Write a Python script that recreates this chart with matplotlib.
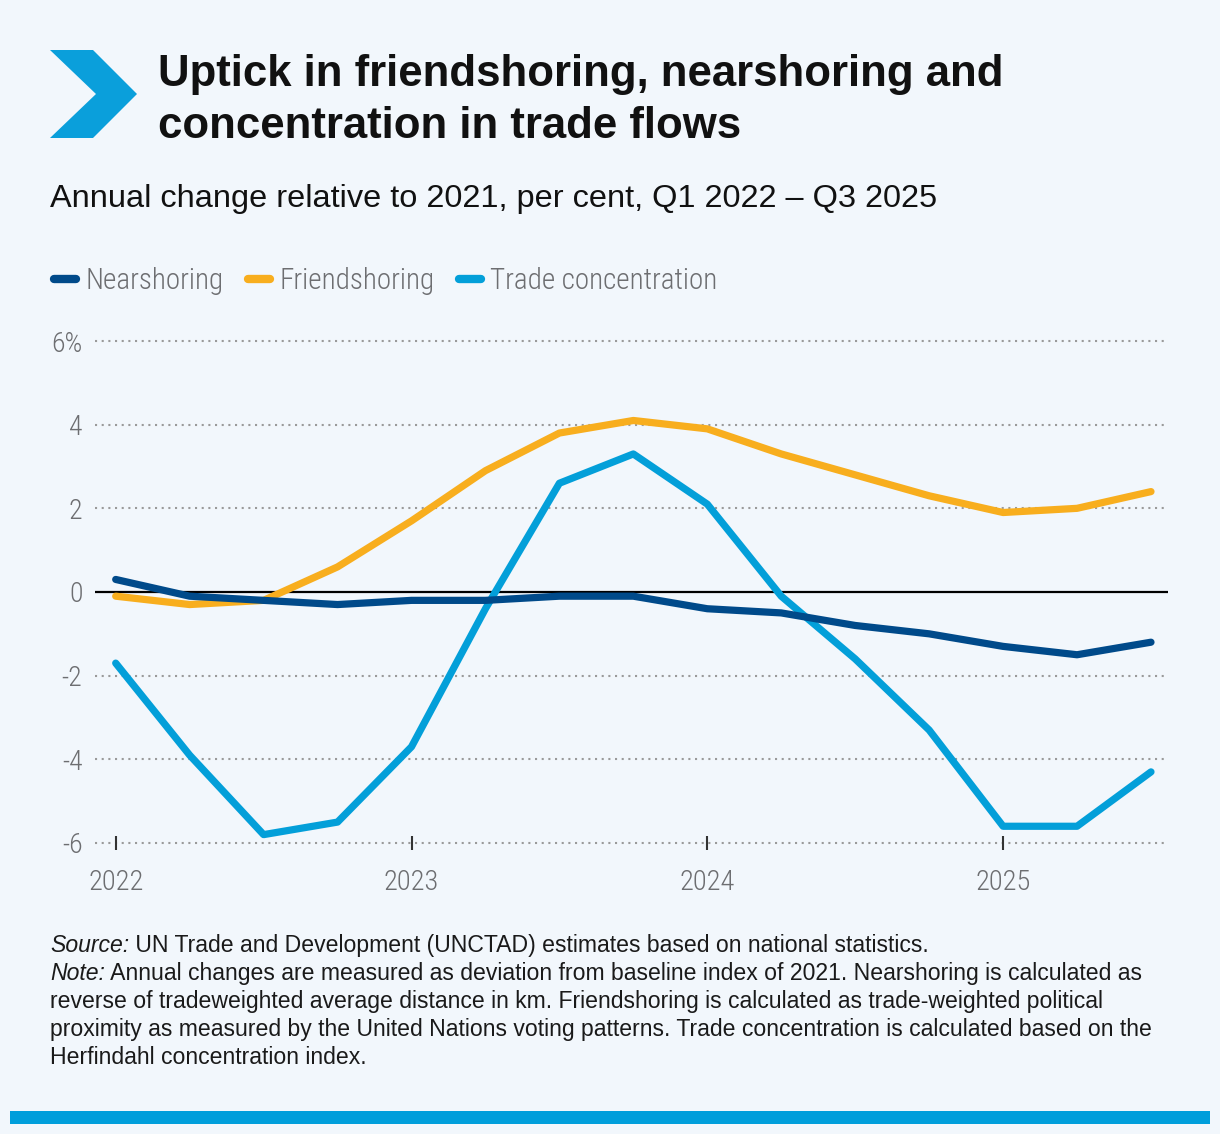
import matplotlib
matplotlib.use("Agg")
import matplotlib.pyplot as plt
from matplotlib import font_manager
from matplotlib.patches import Polygon, Rectangle
import numpy as np

# data (per cent, change relative to 2021)
quarters = ["Q1 2022", "Q2 2022", "Q3 2022", "Q4 2022",
            "Q1 2023", "Q2 2023", "Q3 2023", "Q4 2023",
            "Q1 2024", "Q2 2024", "Q3 2024", "Q4 2024",
            "Q1 2025", "Q2 2025", "Q3 2025"]
nearshoring = [0.3, -0.1, -0.2, -0.3, -0.2, -0.2, -0.1, -0.1,
               -0.4, -0.5, -0.8, -1.0, -1.3, -1.5, -1.2]
friendshoring = [-0.1, -0.3, -0.2, 0.6, 1.7, 2.9, 3.8, 4.1,
                 3.9, 3.3, 2.8, 2.3, 1.9, 2.0, 2.4]
trade_conc = [-1.7, -3.9, -5.8, -5.5, -3.7, -0.4, 2.6, 3.3,
              2.1, -0.1, -1.6, -3.3, -5.6, -5.6, -4.3]
y_ticks = [-6, -4, -2, 0, 2, 4, 6]
y_labels = ["-6", "-4", "-2", "0", "2", "4", "6%"]

title_lines = ["Uptick in friendshoring, nearshoring and",
               "concentration in trade flows"]
subtitle = "Annual change relative to 2021, per cent, Q1 2022 \u2013 Q3 2025"
source_txt = " UN Trade and Development (UNCTAD) estimates based on national statistics."
note_txt = " Annual changes are measured as deviation from baseline index of 2021. Nearshoring is calculated as"
note_rest = ["reverse of tradeweighted average distance in km. Friendshoring is calculated as trade-weighted political",
             "proximity as measured by the United Nations voting patterns. Trade concentration is calculated based on the",
             "Herfindahl concentration index."]

# fonts
names = {f.name for f in font_manager.fontManager.ttflist}
def pick(*cands):
    for c in cands:
        if c in names:
            return c
    return "DejaVu Sans"

sans = pick("Liberation Sans", "Arial", "Roboto", "DejaVu Sans")
cond = pick("Roboto Condensed", "Liberation Sans Narrow", "Roboto", "Liberation Sans")
cond_weight = "light" if cond.startswith("Roboto") else "normal"

BG = "#F2F7FC"
GREY = "#6D6E71"
C_NEAR = "#004A8A"
C_FRIEND = "#F8AE1E"
C_TRADE = "#039FD9"

W, H = 1220, 1134
fig = plt.figure(figsize=(W / 100, H / 100), dpi=100, facecolor=BG)

def fx(px):
    return px / W

def fy(py):
    return 1 - py / H

# chevron
chev = [(50, 50), (93, 50), (137, 94), (93, 138), (50, 138), (96, 94)]
fig.patches.append(Polygon([(fx(a), fy(b)) for a, b in chev], closed=True,
                           transform=fig.transFigure, facecolor="#0A9FDB",
                           edgecolor="none"))

# title + subtitle
fig.text(fx(158), fy(86), title_lines[0], fontsize=31.5, fontweight="bold",
         family=sans, color="#111111", va="baseline")
fig.text(fx(158), fy(138), title_lines[1], fontsize=31.5, fontweight="bold",
         family=sans, color="#111111", va="baseline")
fig.text(fx(50), fy(207), subtitle, fontsize=23.4, family=sans,
         color="#111111", va="baseline")

# axes
ylo, yhi = -6.5, 6.2
ppu = 41.83
bot_px = 843 + (-6 - ylo) * ppu
top_px = 341 - (yhi - 6) * ppu
ax = fig.add_axes([fx(95), fy(bot_px), fx(1168 - 95), (bot_px - top_px) / H])
ax.set_facecolor(BG)

x = np.arange(len(quarters))
l3, = ax.plot(x, trade_conc, color=C_TRADE, lw=5.2, solid_capstyle="round",
              solid_joinstyle="round", label="Trade concentration", zorder=3)
l2, = ax.plot(x, friendshoring, color=C_FRIEND, lw=5.2, solid_capstyle="round",
              solid_joinstyle="round", label="Friendshoring", zorder=4)
l1, = ax.plot(x, nearshoring, color=C_NEAR, lw=5.2, solid_capstyle="round",
              solid_joinstyle="round", label="Nearshoring", zorder=5)

ax.set_xlim(-0.28, 14.23)
ax.set_ylim(ylo, yhi)
ax.set_yticks(y_ticks)
ax.set_yticklabels(y_labels)
for v in y_ticks:
    if v != 0:
        ax.axhline(v, color="#9A9A9A", lw=1.5, linestyle=(0, (1, 2.2)), zorder=1)
ax.axhline(0, color="black", lw=1.6, zorder=2)

year_pos = [i for i, q in enumerate(quarters) if q.startswith("Q1")]
ax.set_xticks(year_pos)
ax.set_xticklabels([quarters[i].split()[1] for i in year_pos])

for s in ax.spines.values():
    s.set_visible(False)
ax.spines["bottom"].set_position(("data", -6))
ax.tick_params(axis="x", direction="inout", length=9.5, width=1.5,
               color="#333333", pad=14, labelsize=20.5, labelcolor=GREY)
ax.tick_params(axis="y", length=0, pad=9, labelsize=20, labelcolor=GREY)
for lab in ax.get_xticklabels() + ax.get_yticklabels():
    lab.set_family(cond)
    lab.set_fontweight(cond_weight)

# legend
leg = fig.legend(handles=[l1, l2, l3], loc="center left",
                 bbox_to_anchor=(fx(54), fy(281)), ncol=3, frameon=False,
                 borderpad=0, borderaxespad=0,
                 handlelength=0.75, handletextpad=0.34, columnspacing=0.82,
                 prop={"family": cond, "weight": cond_weight, "size": 21})
for t in leg.get_texts():
    t.set_color(GREY)
for h in leg.legend_handles:
    h.set_linewidth(6)
    h.set_solid_capstyle("round")

# footer
fig.canvas.draw()
r = fig.canvas.get_renderer()
fs = 16.6
def label_line(py, lead, rest):
    t = fig.text(fx(50), fy(py), lead, fontsize=fs, family=sans,
                 style="italic", color="#1a1a1a", va="baseline")
    bb = t.get_window_extent(renderer=r)
    fig.text(bb.x1 / W, fy(py), rest, fontsize=fs, family=sans,
             color="#1a1a1a", va="baseline")

label_line(952, "Source:", source_txt)
label_line(980, "Note:", note_txt)
for i, line in enumerate(note_rest):
    fig.text(fx(50), fy(1008 + 28 * i), line, fontsize=fs, family=sans,
             color="#1a1a1a", va="baseline")

# bottom bar
fig.patches.append(Rectangle((fx(10), fy(1124)), fx(1200), 13 / H,
                             transform=fig.transFigure, facecolor="#009EDB",
                             edgecolor="none"))

fig.savefig("out.png", dpi=100, facecolor=BG)
